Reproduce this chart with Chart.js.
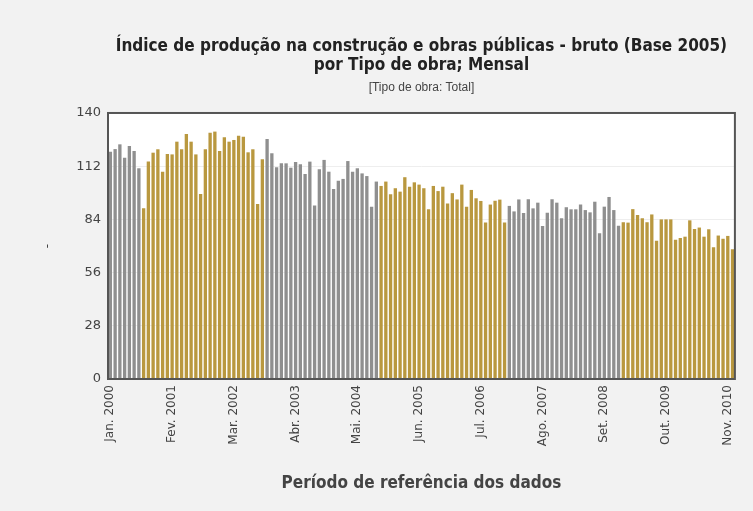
<!DOCTYPE html>
<html lang="pt">
<head>
<meta charset="utf-8">
<title>Índice de produção na construção e obras públicas</title>
<script src="https://cdn.jsdelivr.net/npm/chart.js@4.4.1/dist/chart.umd.min.js"></script>
<style>
  html, body { margin: 0; padding: 0; background: #f2f2f2; }
</style>
</head>
<body>
<canvas id="grafico" width="753" height="511"></canvas>
<script>
// Meses e anos do período (Jan. 2000 - Dez. 2010)
const meses = ['Jan.', 'Fev.', 'Mar.', 'Abr.', 'Mai.', 'Jun.', 'Jul.', 'Ago.', 'Set.', 'Out.', 'Nov.', 'Dez.'];
const anos = [2000, 2001, 2002, 2003, 2004, 2005, 2006, 2007, 2008, 2009, 2010];

// Rótulos visíveis no eixo X
const rotulosX = ['Jan. 2000', 'Fev. 2001', 'Mar. 2002', 'Abr. 2003', 'Mai. 2004', 'Jun. 2005',
                  'Jul. 2006', 'Ago. 2007', 'Set. 2008', 'Out. 2009', 'Nov. 2010'];

// Valores do eixo Y
const ticksY = [0, 28, 56, 84, 112, 140];

// Índice (Base 2005), Tipo de obra: Total
const indice2000 = [119.6, 121.0, 123.5, 116.5, 122.6, 120.0, 110.9, 89.8, 114.4, 119.1, 120.9, 109.1];
const indice2001 = [118.4, 118.2, 124.9, 120.9, 128.9, 124.9, 118.2, 97.4, 120.9, 129.6, 130.2, 120.0];
const indice2002 = [127.2, 124.9, 125.8, 128.0, 127.5, 119.3, 120.9, 92.1, 115.6, 126.3, 118.8, 111.4];
const indice2003 = [113.5, 113.5, 111.2, 114.2, 113.0, 107.9, 114.4, 91.3, 110.4, 115.3, 109.1, 100.0];
const indice2004 = [104.4, 105.3, 114.7, 109.1, 110.9, 108.2, 106.8, 90.7, 103.9, 101.6, 103.9, 97.2];
const indice2005 = [100.4, 98.6, 106.2, 101.2, 103.5, 102.3, 100.4, 89.3, 101.6, 98.9, 101.2, 92.3];
const indice2006 = [97.8, 94.5, 102.3, 90.7, 99.5, 95.1, 93.7, 82.3, 91.8, 93.8, 94.4, 82.3];
const indice2007 = [91.1, 88.2, 94.5, 87.3, 94.6, 89.8, 92.8, 80.5, 87.5, 94.6, 92.8, 84.6];
const indice2008 = [90.4, 89.3, 89.3, 91.8, 88.9, 87.7, 93.3, 76.7, 90.7, 95.8, 88.9, 80.7];
const indice2009 = [82.5, 82.3, 89.4, 86.3, 84.6, 82.5, 86.6, 72.8, 84.0, 84.0, 84.0, 73.3];
const indice2010 = [74.2, 74.9, 83.5, 79.0, 79.7, 74.9, 78.8, 69.3, 75.5, 73.8, 75.3, 68.3];

const indice = [].concat(indice2000, indice2001, indice2002, indice2003, indice2004, indice2005,
                         indice2006, indice2007, indice2008, indice2009, indice2010);
const labels = anos.flatMap(a => meses.map(m => `${m} ${a}`));

const CINZA = '#8f8f8f';
const OURO = '#b9983f';

// cor de cada barra (faixas alternadas do gráfico original)
const corBarra = (i) => {
    if (i < 7) return CINZA;
    if (i < 33) return OURO;
    if (i < 57) return CINZA;
    if (i < 84) return OURO;
    if (i < 108) return CINZA;
    return OURO;
};

// fundo cinza, área do gráfico branca e moldura
const moldura = {
    id: 'moldura',
    beforeDraw(chart) {
        const { ctx, chartArea: a } = chart;
        ctx.save();
        ctx.fillStyle = '#f2f2f2';
        ctx.fillRect(0, 0, chart.width, chart.height);
        ctx.fillStyle = '#ffffff';
        ctx.fillRect(a.left, a.top, a.right - a.left, a.bottom - a.top);
        ctx.restore();
    },
    afterDatasetsDraw(chart) {
        const { ctx, chartArea: a } = chart;
        ctx.save();
        ctx.strokeStyle = '#555555';
        ctx.lineWidth = 2;
        ctx.strokeRect(a.left, a.top, a.right - a.left, a.bottom - a.top);
        ctx.restore();
    }
};

const fonteTitulo = "'Liberation Sans Narrow', 'DejaVu Sans Condensed', 'Liberation Sans', sans-serif";

new Chart(document.getElementById('grafico'), {
    type: 'bar',
    data: {
        labels: labels,
        datasets: [{
            label: 'Total',
            data: indice,
            backgroundColor: indice.map((v, i) => corBarra(i)),
            borderWidth: 0,
            barPercentage: 0.7,
            categoryPercentage: 1.0
        }]
    },
    options: {
        responsive: false,
        animation: false,
        devicePixelRatio: 1,
        layout: { padding: { left: 36, right: 11, top: 0, bottom: 16 } },
        plugins: {
            legend: { display: false },
            tooltip: { enabled: false },
            title: {
                display: true,
                fullSize: false,
                text: ['Índice de produção na construção e obras públicas - bruto (Base 2005)',
                       'por Tipo de obra; Mensal'],
                color: '#222222',
                font: { family: fonteTitulo, size: 17, weight: 'bold', lineHeight: 1.12 },
                padding: { top: 37.5, bottom: 5 }
            },
            subtitle: {
                display: true,
                fullSize: false,
                text: '[Tipo de obra: Total]',
                color: '#444444',
                font: { family: "'Liberation Sans', Arial, sans-serif", size: 12, lineHeight: 1.2 },
                padding: { top: 0, bottom: 18 }
            }
        },
        scales: {
            x: {
                grid: { display: false, drawTicks: false },
                border: { display: false },
                ticks: {
                    autoSkip: false,
                    minRotation: 90,
                    maxRotation: 90,
                    padding: 6,
                    color: '#444444',
                    font: { family: "'DejaVu Sans', sans-serif", size: 12 },
                    callback: function (val) {
                        const l = this.getLabelForValue(val);
                        return rotulosX.includes(l) ? l : '';
                    }
                },
                title: {
                    display: true,
                    text: 'Período de referência dos dados',
                    color: '#444444',
                    font: { family: fonteTitulo, size: 17, weight: 'bold', lineHeight: 1.2 },
                    padding: { top: 0, bottom: 1 }
                },
                afterFit: (s) => { s.height = 116; }
            },
            y: {
                min: 0,
                max: 140,
                grid: { color: '#eeeeee', drawTicks: false },
                border: { display: false },
                afterBuildTicks: (s) => { s.ticks = ticksY.map(v => ({ value: v })); },
                ticks: {
                    padding: 7,
                    color: '#444444',
                    font: { family: "'DejaVu Sans', sans-serif", size: 13 }
                },
                title: {
                    display: true,
                    text: '-',
                    color: '#444444',
                    font: { family: "'DejaVu Sans', sans-serif", size: 12, lineHeight: 1.2 },
                    padding: { top: 5, bottom: 0 }
                },
                afterFit: (s) => { s.width = 72; }
            }
        }
    },
    plugins: [moldura]
});
</script>
</body>
</html>
